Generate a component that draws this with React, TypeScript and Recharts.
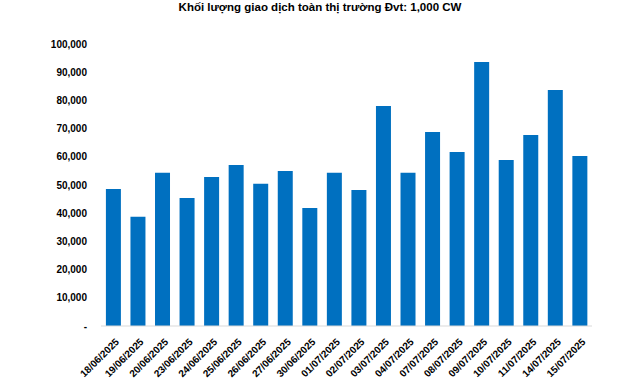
import { BarChart, Bar, XAxis, YAxis } from 'recharts';

const dates = [
  '18/06/2025', '19/06/2025', '20/06/2025', '23/06/2025', '24/06/2025',
  '25/06/2025', '26/06/2025', '27/06/2025', '30/06/2025', '01/07/2025',
  '02/07/2025', '03/07/2025', '04/07/2025', '07/07/2025', '08/07/2025',
  '09/07/2025', '10/07/2025', '11/07/2025', '14/07/2025', '15/07/2025',
];

const volumes = [
  48600, 38700, 54300, 45400, 52800, 57100, 50400, 55000, 41800, 54300,
  48200, 78000, 54300, 68800, 61700, 93600, 58900, 67700, 83700, 60300,
];

const yTicks = [0, 10000, 20000, 30000, 40000, 50000, 60000, 70000, 80000, 90000, 100000];

const chartData = dates.map((date, i) => ({ date, volume: volumes[i] }));

const font = 'Liberation Sans, Arial, sans-serif';

function formatY(v: number) {
  return v === 0 ? '-' : v.toLocaleString('en-US');
}

function DateTick({ x, y, payload }: any) {
  return (
    <g transform={`translate(${x + 4},${y + 6})`}>
      <text
        transform="rotate(-45)"
        textAnchor="end"
        dominantBaseline="central"
        fontSize={10}
        fontWeight="bold"
        fontFamily={font}
        fill="#000"
      >
        {payload.value}
      </text>
    </g>
  );
}

export default function App() {
  return (
    <div style={{ position: 'absolute', left: 0, top: 0, width: 640, height: 380, background: '#fff' }}>
      <div
        style={{
          position: 'absolute',
          top: 1,
          left: 0,
          width: 640,
          textAlign: 'center',
          fontFamily: font,
          fontWeight: 'bold',
          fontSize: 11.5,
        }}
      >
        Khối lượng giao dịch toàn thị trường Đvt: 1,000 CW
      </div>
      <BarChart
        width={640}
        height={380}
        data={chartData}
        margin={{ top: 44, right: 48, bottom: 0, left: 0 }}
        barCategoryGap="20%"
      >
        <XAxis
          dataKey="date"
          height={54}
          interval={0}
          tickLine={false}
          axisLine={{ stroke: '#d9d9d9' }}
          tick={<DateTick />}
        />
        <YAxis
          width={101}
          domain={[0, 100000]}
          ticks={yTicks}
          tickFormatter={formatY}
          axisLine={false}
          tickLine={false}
          tickMargin={8}
          tick={{ fontSize: 10, fontWeight: 'bold', fontFamily: font, fill: '#000' }}
        />
        <Bar dataKey="volume" fill="#0070C0" isAnimationActive={false} />
      </BarChart>
    </div>
  );
}
